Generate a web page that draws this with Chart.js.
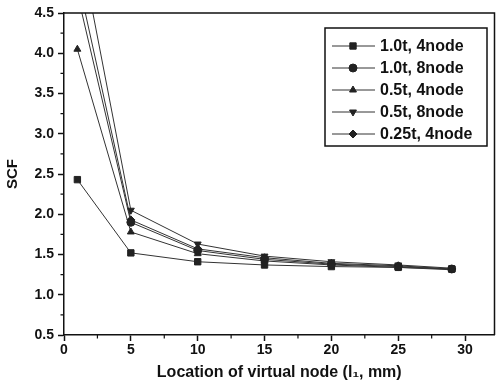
<!DOCTYPE html>
<html>
<head>
<meta charset="utf-8">
<script src="https://cdn.jsdelivr.net/npm/chart.js@4"></script>
<style>
html,body{margin:0;padding:0;background:#fff;}
#wrap{width:500px;height:386px;position:relative;}
</style>
</head>
<body>
<div id="wrap"><canvas id="c" width="500" height="386"></canvas></div>
<script>
// Data
const xValues = [1, 5, 10, 15, 20, 25, 29];
const seriesLabels = ['1.0t, 4node', '1.0t, 8node', '0.5t, 4node', '0.5t, 8node', '0.25t, 4node'];
const scf_10t_4node  = [2.43, 1.52, 1.41, 1.37, 1.35, 1.34, 1.32];
const scf_10t_8node  = [4.74, 1.90, 1.55, 1.44, 1.38, 1.35, 1.32];
const scf_05t_4node  = [4.05, 1.78, 1.51, 1.42, 1.37, 1.34, 1.31];
const scf_05t_8node  = [5.50, 2.05, 1.63, 1.48, 1.41, 1.37, 1.33];
const scf_025t_4node = [4.95, 1.93, 1.57, 1.46, 1.39, 1.36, 1.32];
const yTicks = [0.5, 1.0, 1.5, 2.0, 2.5, 3.0, 3.5, 4.0, 4.5];
const xTicks = [0, 5, 10, 15, 20, 25, 30];
const yMinorTicks = [0.75, 1.25, 1.75, 2.25, 2.75, 3.25, 3.75, 4.25];
const xMinorTicks = [2.5, 7.5, 12.5, 17.5, 22.5, 27.5, 32.5];

const FONT = '"Liberation Sans", Arial, sans-serif';
const INK = '#111';
const allSeries = [scf_10t_4node, scf_10t_8node, scf_05t_4node, scf_05t_8node, scf_025t_4node];
const styles = ['rect', 'circle', 'triangle', 'triangle', 'rectRot'];
const rotations = [0, 0, 0, 180, 0];

const datasets = allSeries.map((vals, i) => ({
  label: seriesLabels[i],
  data: vals.map((v, j) => ({x: xValues[j], y: v})),
  showLine: true,
  borderColor: '#333',
  borderWidth: 1,
  backgroundColor: '#222',
  pointBackgroundColor: '#222',
  pointBorderColor: '#222',
  pointBorderWidth: 1,
  pointStyle: styles[i],
  rotation: rotations[i],
  pointRadius: styles[i] === 'rect' ? 4.5 : 4,
  tension: 0
}));

const framePlugin = {
  id: 'frame',
  afterDraw(chart) {
    const {ctx, chartArea: a, scales} = chart;
    ctx.save();
    ctx.strokeStyle = INK;
    ctx.lineWidth = 1.5;
    ctx.beginPath();
    ctx.moveTo(a.left, a.top); ctx.lineTo(a.right, a.top); ctx.lineTo(a.right, a.bottom);
    ctx.stroke();
    // minor ticks
    ctx.lineWidth = 1.2;
    ctx.beginPath();
    yMinorTicks.forEach(v => {
      const y = scales.y.getPixelForValue(v);
      ctx.moveTo(a.left, y); ctx.lineTo(a.left - 3.5, y);
    });
    xMinorTicks.forEach(v => {
      const x = scales.x.getPixelForValue(v);
      if (x <= a.right) { ctx.moveTo(x, a.bottom); ctx.lineTo(x, a.bottom + 3.5); }
    });
    ctx.stroke();
    // legend
    const bx = 325, by = 28, bw = 162, bh = 118;
    ctx.fillStyle = '#fff';
    ctx.fillRect(bx, by, bw, bh);
    ctx.lineWidth = 1.5;
    ctx.strokeRect(bx, by, bw, bh);
    ctx.font = 'bold 16px ' + FONT;
    ctx.textBaseline = 'middle';
    ctx.textAlign = 'left';
    chart.data.datasets.forEach((ds, i) => {
      const y = 46 + i * 22;
      ctx.strokeStyle = '#333';
      ctx.lineWidth = 1;
      ctx.beginPath(); ctx.moveTo(332, y); ctx.lineTo(375, y); ctx.stroke();
      ctx.fillStyle = '#222';
      ctx.strokeStyle = '#222';
      Chart.helpers.drawPoint(ctx, {pointStyle: ds.pointStyle, rotation: ds.rotation, radius: ds.pointRadius, borderWidth: 1}, 353, y);
      ctx.fillStyle = INK;
      ctx.fillText(ds.label, 380, y + 1);
    });
    ctx.restore();
  }
};

new Chart(document.getElementById('c'), {
  type: 'scatter',
  data: {datasets},
  plugins: [framePlugin],
  options: {
    responsive: false,
    animation: false,
    devicePixelRatio: 1,
    layout: {padding: {left: 0, top: 13, right: 3, bottom: 0}},
    plugins: {legend: {display: false}, tooltip: {enabled: false}},
    scales: {
      x: {
        type: 'linear', min: 0, max: 32.2,
        afterBuildTicks(s) { s.ticks = xTicks.map(v => ({value: v})); },
        afterFit(s) { s.height = 51; },
        grid: {display: true, drawOnChartArea: false, drawTicks: true, tickLength: 6, tickColor: INK, tickWidth: 1.5},
        border: {display: true, color: INK, width: 1.5},
        ticks: {color: INK, font: {family: FONT, size: 14, weight: 'bold'}, padding: 1, maxRotation: 0,
                callback: v => String(v)},
        title: {display: true, text: 'Location of virtual node (l\u2081, mm)', color: INK,
                font: {family: FONT, size: 16, weight: 'bold'}, padding: {top: 0, bottom: 4}}
      },
      y: {
        type: 'linear', min: 0.5, max: 4.5,
        afterBuildTicks(s) { s.ticks = yTicks.map(v => ({value: v})); },
        afterFit(s) { s.width = 64; },
        grid: {display: true, drawOnChartArea: false, drawTicks: true, tickLength: 6, tickColor: INK, tickWidth: 1.5},
        border: {display: true, color: INK, width: 1.5},
        ticks: {color: INK, font: {family: FONT, size: 14, weight: 'bold'}, padding: 4,
                callback: v => Number(v).toFixed(1)},
        title: {display: true, text: 'SCF', color: INK,
                font: {family: FONT, size: 15, weight: 'bold'}, padding: {top: 4, bottom: 0}}
      }
    }
  }
});
</script>
</body>
</html>
